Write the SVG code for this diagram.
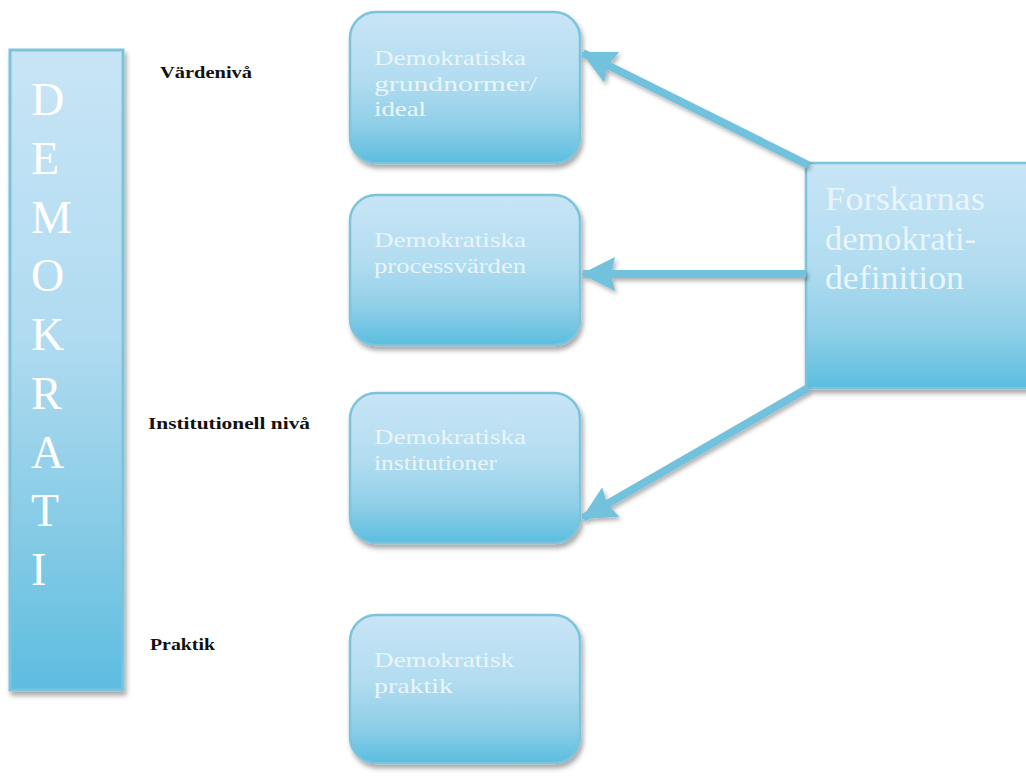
<svg xmlns="http://www.w3.org/2000/svg" width="1026" height="776" viewBox="0 0 1026 776">
<defs>
<linearGradient id="gBox" x1="0" y1="0" x2="0" y2="1">
<stop offset="0" stop-color="#c8e5f6"/>
<stop offset="0.45" stop-color="#b2dcf0"/>
<stop offset="0.75" stop-color="#8fcfe8"/>
<stop offset="1" stop-color="#5bbddf"/>
</linearGradient>
<linearGradient id="gBar" x1="0" y1="0" x2="0" y2="1">
<stop offset="0" stop-color="#c8e5f6"/>
<stop offset="0.45" stop-color="#b0dbf0"/>
<stop offset="0.75" stop-color="#86cbe6"/>
<stop offset="1" stop-color="#5dbde0"/>
</linearGradient>
<filter id="sh" x="-10%" y="-10%" width="130%" height="130%">
<feDropShadow dx="2" dy="4" stdDeviation="2.5" flood-color="#000" flood-opacity="0.35"/>
</filter>
<filter id="ash" x="-10%" y="-30%" width="130%" height="160%">
<feDropShadow dx="2" dy="3" stdDeviation="2" flood-color="#000" flood-opacity="0.3"/>
</filter>
<marker id="ah" markerUnits="userSpaceOnUse" viewBox="0 0 34 34" refX="32" refY="17" markerWidth="34" markerHeight="34" orient="auto">
<path d="M34,17 L0,0 L4,17 L0,34 Z" fill="#72c1dd"/>
</marker>
</defs>
<style>
.box{fill:url(#gBox);stroke:#7cc3dc;stroke-width:2.5;filter:url(#sh)}
.bt{font-family:"Liberation Serif","DejaVu Serif",serif;font-size:22px;fill:#eaf5fb}
.big{font-family:"Liberation Serif","DejaVu Serif",serif;font-size:34px;fill:#eaf5fb}
.let{font-family:"Liberation Serif","DejaVu Serif",serif;font-size:46px;fill:#ffffff}
.lbl{font-family:"Liberation Serif","DejaVu Serif",serif;font-size:17px;font-weight:bold;fill:#111}
.con{stroke:#72c1dd;stroke-width:8;fill:none}
</style>
<rect width="1026" height="776" fill="#ffffff"/>

<g id="demokrati">
<rect x="10" y="50" width="113" height="640" fill="url(#gBar)" stroke="#7cc3dc" stroke-width="3" filter="url(#sh)"/>
<text class="let" x="31" y="115">D</text>
<text class="let" x="31" y="174">E</text>
<text class="let" x="31" y="233">M</text>
<text class="let" x="31" y="291">O</text>
<text class="let" x="31" y="350">K</text>
<text class="let" x="31" y="409">R</text>
<text class="let" x="31" y="468">A</text>
<text class="let" x="31" y="526">T</text>
<text class="let" x="31" y="585">I</text>
</g>

<g id="labels">
<text class="lbl" x="160" y="78" textLength="92" lengthAdjust="spacingAndGlyphs">Värdenivå</text>
<text class="lbl" x="148" y="429" textLength="162" lengthAdjust="spacingAndGlyphs">Institutionell nivå</text>
<text class="lbl" x="150" y="650" textLength="65" lengthAdjust="spacingAndGlyphs">Praktik</text>
</g>

<g id="box-grundnormer">
<rect class="box" x="350" y="12" width="230" height="151" rx="26"/>
<text class="bt" x="374" y="65" textLength="152" lengthAdjust="spacingAndGlyphs">Demokratiska</text>
<text class="bt" x="374" y="91" textLength="163" lengthAdjust="spacingAndGlyphs">grundnormer/</text>
<text class="bt" x="374" y="116" textLength="52" lengthAdjust="spacingAndGlyphs">ideal</text>
</g>

<g id="box-processvarden">
<rect class="box" x="350" y="195" width="230" height="150" rx="26"/>
<text class="bt" x="374" y="247" textLength="152" lengthAdjust="spacingAndGlyphs">Demokratiska</text>
<text class="bt" x="374" y="273" textLength="152" lengthAdjust="spacingAndGlyphs">processvärden</text>
</g>

<g id="box-institutioner">
<rect class="box" x="350" y="393" width="230" height="150" rx="26"/>
<text class="bt" x="374" y="444" textLength="152" lengthAdjust="spacingAndGlyphs">Demokratiska</text>
<text class="bt" x="374" y="470" textLength="123" lengthAdjust="spacingAndGlyphs">institutioner</text>
</g>

<g id="box-praktik">
<rect class="box" x="350" y="615" width="230" height="148" rx="26"/>
<text class="bt" x="374" y="667" textLength="140" lengthAdjust="spacingAndGlyphs">Demokratisk</text>
<text class="bt" x="374" y="693" textLength="79" lengthAdjust="spacingAndGlyphs">praktik</text>
</g>

<g id="box-forskarnas">
<rect class="box" x="806" y="163" width="240" height="225" rx="4"/>
<text class="big" x="825" y="210" textLength="160" lengthAdjust="spacingAndGlyphs">Forskarnas</text>
<text class="big" x="825" y="250" textLength="151" lengthAdjust="spacingAndGlyphs">demokrati-</text>
<text class="big" x="825" y="289" textLength="139" lengthAdjust="spacingAndGlyphs">definition</text>
</g>

<g id="connectors">
<g filter="url(#ash)">
<line class="con" x1="808" y1="165" x2="583" y2="53" marker-end="url(#ah)"/>
<line class="con" x1="806" y1="274" x2="583" y2="274" marker-end="url(#ah)"/>
<line class="con" x1="808" y1="388" x2="583" y2="518" marker-end="url(#ah)"/>
</g>
</g>
</svg>
